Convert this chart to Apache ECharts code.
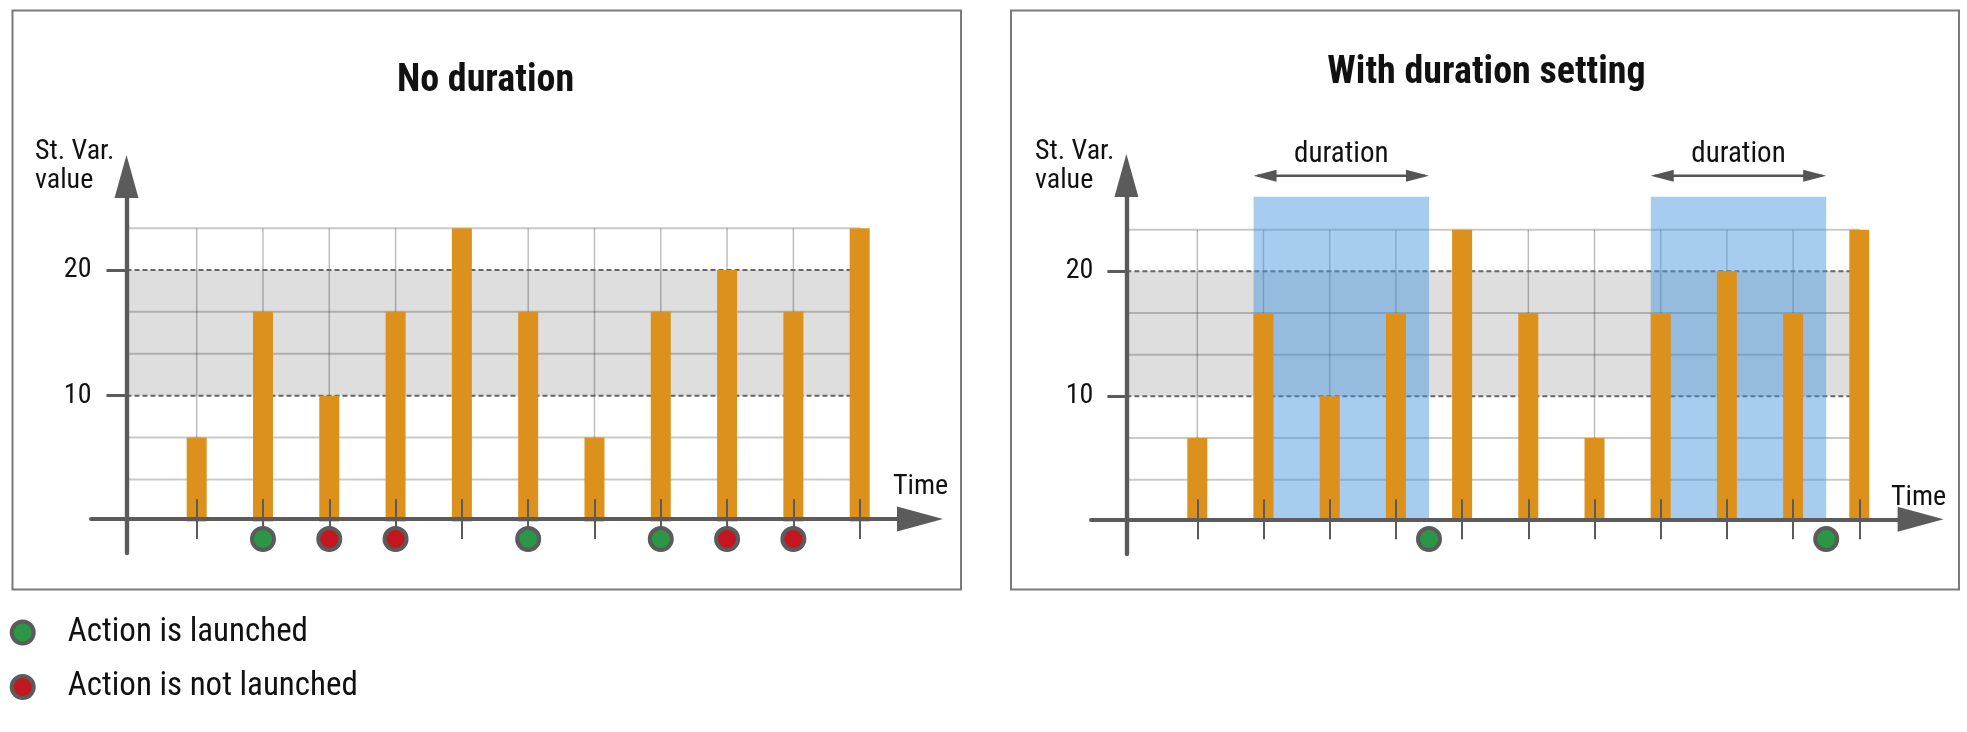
<!DOCTYPE html>
<html>
<head>
<meta charset="utf-8">
<script src="https://cdn.jsdelivr.net/npm/echarts@6/dist/echarts.min.js"></script>
<style>
  html, body { margin: 0; padding: 0; background: #ffffff; }
  #chart { width: 1967px; height: 732px; }
</style>
</head>
<body>
<div id="chart"></div>
<script>
// ---------- data ----------
const TIMES = [1, 2, 3, 4, 5, 6, 7, 8, 9, 10, 11];
const VALUES = [6.67, 16.67, 10, 16.67, 23.33, 16.67, 6.67, 16.67, 20, 16.67, 23.33];
const THRESHOLDS = [10, 20];
const BAND = [[10, 20]];
const GRID_LEVELS = [3.33, 6.67, 13.33, 16.67, 23.33];
const GRID_TOP = 23.33;
const Y_TICK_VALUES = [10, 20];
const LAUNCHED_NO_DURATION = [2, 6, 8];
const NOT_LAUNCHED_NO_DURATION = [3, 4, 9, 10];
const LAUNCHED_WITH_DURATION = [4.5, 10.5];
const DURATION_WINDOWS = [[1.85, 4.5], [7.85, 10.5]];
const WINDOW_TOP = 25.97;
const ARROW_LEVEL = 27.65;
const TITLES = ['No duration', 'With duration setting'];
const Y_NAME = ['St. Var.', 'value'];
const X_NAME = 'Time';
const DURATION_LABEL = 'duration';
const LEGEND_NAMES = ['Action is launched', 'Action is not launched'];

// ---------- style / layout ----------
const FONT = "'Liberation Sans Narrow', 'Arial Narrow', 'Roboto Condensed', 'DejaVu Sans Condensed', sans-serif";
const AXIS_COLOR = '#5b5b5b';
const TEXT_COLOR = '#111111';
const BAR_COLOR = '#dc911d';
const BAND_COLOR = '#dedede';
const BLUE = 'rgba(70,149,224,0.48)';
const GREEN = '#2b9646';
const RED = '#c4161f';
const TEXT_DY = 3;

const LAYOUT = [
  { left: 91, width: 829, top: 176.5, height: 376.5, xMin: -0.594, xMax: 11.91, yMin: -2.514, yMax: 27.44,
    xOff: -34, yOff: -35.5, markerDy: 17.6, labelMargin: 35, yTickLen: 20,
    frame: { x: 12.5, y: 10.5, width: 948.5, height: 579 },
    title: { x: 485.5, y: 78.5 }, yName: { x: 35, y1: 149, y2: 177.5 }, xName: { x: 893, y: 484 } },
  { left: 1091, width: 829.6, top: 175.5, height: 378.5, xMin: -0.606, xMax: 11.926, yMin: -2.616, yMax: 27.664,
    xOff: -34.7, yOff: -35.4, markerDy: 17.7, labelMargin: 33, yTickLen: 19,
    frame: { x: 1011, y: 10.5, width: 948, height: 579 },
    title: { x: 1486.5, y: 70 }, yName: { x: 1035, y1: 149, y2: 177.5 }, xName: { x: 1891, y: 495 } }
];

const chart = echarts.init(document.getElementById('chart'));

const grids = [], xAxes = [], yAxes = [], series = [], graphics = [];

LAYOUT.forEach((L, g) => {
  grids.push({ left: L.left, top: L.top, width: L.width, height: L.height, containLabel: false });
  const axisPx = L.left - L.yOff;
  const lastT = TIMES[TIMES.length - 1];

  // main x axis (line + arrow + outward ticks)
  xAxes.push({
    gridIndex: g, type: 'value', min: L.xMin, max: L.xMax, position: 'bottom', offset: L.xOff, z: 6,
    axisLine: { show: true, onZero: false, symbol: ['none', 'triangle'], symbolSize: [25, 46],
      lineStyle: { color: AXIS_COLOR, width: 4 } },
    axisTick: { show: true, customValues: TIMES, length: 20, inside: false, lineStyle: { color: AXIS_COLOR, width: 2 } },
    axisLabel: { show: false }, splitLine: { show: false }
  });
  // companion x axis (inward ticks)
  xAxes.push({
    gridIndex: g, type: 'value', min: L.xMin, max: L.xMax, position: 'bottom', offset: L.xOff, z: 6,
    axisLine: { show: false, onZero: false },
    axisTick: { show: true, customValues: TIMES, length: 20, inside: true, lineStyle: { color: AXIS_COLOR, width: 2 } },
    axisLabel: { show: false }, splitLine: { show: false }
  });
  yAxes.push({
    gridIndex: g, type: 'value', min: L.yMin, max: L.yMax, position: 'left', offset: L.yOff, z: 6,
    axisLine: { show: true, onZero: false, symbol: ['none', 'triangle'], symbolSize: [24, 43],
      lineStyle: { color: AXIS_COLOR, width: 4.4 } },
    axisTick: { show: true, customValues: Y_TICK_VALUES, length: L.yTickLen, lineStyle: { color: AXIS_COLOR, width: 3 } },
    axisLabel: { show: true, customValues: Y_TICK_VALUES, margin: L.labelMargin, fontSize: 28,
      fontFamily: FONT, color: TEXT_COLOR },
    splitLine: { show: false }
  });
  const xi = g * 2, yi = g;

  // grey band between thresholds
  series.push({
    type: 'custom', xAxisIndex: xi, yAxisIndex: yi, z: 1, silent: true, data: BAND,
    renderItem: (params, api) => {
      const top = api.coord([lastT, api.value(1)]);
      const bot = api.coord([lastT, api.value(0)]);
      return { type: 'rect', shape: { x: axisPx, y: top[1], width: top[0] - axisPx, height: bot[1] - top[1] },
        style: { fill: BAND_COLOR } };
    }
  });
  // horizontal grid lines
  series.push({
    type: 'custom', xAxisIndex: xi, yAxisIndex: yi, z: 2, silent: true, data: GRID_LEVELS,
    renderItem: (params, api) => {
      const p = api.coord([lastT, api.value(0)]);
      return { type: 'line', shape: { x1: axisPx, y1: p[1], x2: p[0], y2: p[1] },
        style: { stroke: 'rgba(0,0,0,0.21)', lineWidth: 2 } };
    }
  });
  // vertical grid lines
  series.push({
    type: 'custom', xAxisIndex: xi, yAxisIndex: yi, z: 2, silent: true, data: TIMES,
    renderItem: (params, api) => {
      const a = api.coord([api.value(0), 0]);
      const b = api.coord([api.value(0), GRID_TOP]);
      return { type: 'line', shape: { x1: a[0], y1: a[1], x2: b[0], y2: b[1] },
        style: { stroke: 'rgba(0,0,0,0.27)', lineWidth: 1.4 } };
    }
  });
  // dashed threshold lines
  series.push({
    type: 'custom', xAxisIndex: xi, yAxisIndex: yi, z: 3, silent: true, data: THRESHOLDS,
    renderItem: (params, api) => {
      const p = api.coord([lastT, api.value(0)]);
      return { type: 'line', shape: { x1: axisPx, y1: p[1], x2: p[0], y2: p[1] },
        style: { stroke: '#666666', lineWidth: 2, lineDash: [5, 3] } };
    }
  });

  if (g === 1) {
    // duration windows
    series.push({
      type: 'custom', xAxisIndex: xi, yAxisIndex: yi, z: 4, silent: true, data: DURATION_WINDOWS,
      renderItem: (params, api) => {
        const s = api.value(0), e = api.value(1);
        const tl = api.coord([s, WINDOW_TOP]);
        const br = api.coord([e, 0]);
        const al = api.coord([s, ARROW_LEVEL]);
        const ar = api.coord([e, ARROW_LEVEL]);
        const ah = 23, hw = 6;
        return {
          type: 'group', children: [
            { type: 'rect', shape: { x: tl[0], y: tl[1], width: br[0] - tl[0], height: br[1] - tl[1] },
              style: { fill: BLUE } },
            { type: 'line', shape: { x1: al[0] + 4, y1: al[1], x2: ar[0] - 4, y2: ar[1] },
              style: { stroke: '#555555', lineWidth: 2.4 } },
            { type: 'polygon', shape: { points: [[al[0], al[1]], [al[0] + ah, al[1] - hw], [al[0] + ah, al[1] + hw]] },
              style: { fill: '#555555' } },
            { type: 'polygon', shape: { points: [[ar[0], ar[1]], [ar[0] - ah, ar[1] - hw], [ar[0] - ah, ar[1] + hw]] },
              style: { fill: '#555555' } },
            { type: 'text', x: (al[0] + ar[0]) / 2, y: al[1] - 24 + TEXT_DY,
              style: { text: DURATION_LABEL, fontSize: 29, fontFamily: FONT, fill: TEXT_COLOR,
                align: 'center', verticalAlign: 'middle' } }
          ]
        };
      }
    });
  }

  // bars
  series.push({
    type: 'bar', xAxisIndex: xi, yAxisIndex: yi, z: 5, silent: true, barWidth: 20,
    data: TIMES.map((t, i) => [t, VALUES[i]]),
    itemStyle: { color: BAR_COLOR }
  });

  // markers
  const markerSets = g === 0
    ? [[LEGEND_NAMES[0], LAUNCHED_NO_DURATION, GREEN], [LEGEND_NAMES[1], NOT_LAUNCHED_NO_DURATION, RED]]
    : [[LEGEND_NAMES[0], LAUNCHED_WITH_DURATION, GREEN]];
  markerSets.forEach(([name, ts, col]) => {
    series.push({
      type: 'scatter', name: name, xAxisIndex: xi, yAxisIndex: yi, z: 8, silent: true,
      symbol: 'circle', symbolSize: 22, symbolOffset: [0, L.markerDy],
      data: ts.map(t => [t, 0]),
      itemStyle: { color: col, borderColor: AXIS_COLOR, borderWidth: 4, opacity: 1 }
    });
  });

  // frame, title, axis names
  graphics.push({ type: 'rect', silent: true, z: 0,
    shape: L.frame, style: { fill: 'none', stroke: '#7a7a7a', lineWidth: 2 } });
  graphics.push({ type: 'text', silent: true, x: L.title.x, y: L.title.y + TEXT_DY,
    style: { text: TITLES[g], fontSize: 38, fontWeight: 'bold', fontFamily: FONT, fill: TEXT_COLOR,
      align: 'center', verticalAlign: 'middle' } });
  graphics.push({ type: 'text', silent: true, x: L.yName.x, y: L.yName.y1 + TEXT_DY,
    style: { text: Y_NAME[0], fontSize: 28, fontFamily: FONT, fill: TEXT_COLOR, align: 'left', verticalAlign: 'middle' } });
  graphics.push({ type: 'text', silent: true, x: L.yName.x, y: L.yName.y2 + TEXT_DY,
    style: { text: Y_NAME[1], fontSize: 28, fontFamily: FONT, fill: TEXT_COLOR, align: 'left', verticalAlign: 'middle' } });
  graphics.push({ type: 'text', silent: true, x: L.xName.x, y: L.xName.y + TEXT_DY,
    style: { text: X_NAME, fontSize: 28, fontFamily: FONT, fill: TEXT_COLOR, align: 'left', verticalAlign: 'middle' } });
});

const legendCommon = {
  orient: 'vertical', left: 9.7, padding: 0, itemWidth: 22, itemHeight: 22, selectedMode: false,
  icon: 'circle',
  itemStyle: { borderColor: AXIS_COLOR, borderWidth: 4 },
  textStyle: { fontSize: 33, fontFamily: FONT, color: TEXT_COLOR, lineHeight: 22, padding: [0, 0, 0, 29] }
};

chart.setOption({
  animation: false,
  backgroundColor: '#ffffff',
  grid: grids,
  xAxis: xAxes,
  yAxis: yAxes,
  legend: [
    Object.assign({}, legendCommon, { top: 616, data: [LEGEND_NAMES[0]] }),
    Object.assign({}, legendCommon, { top: 670.5, data: [LEGEND_NAMES[1]] })
  ],
  graphic: graphics,
  series: series
});
</script>
</body>
</html>
